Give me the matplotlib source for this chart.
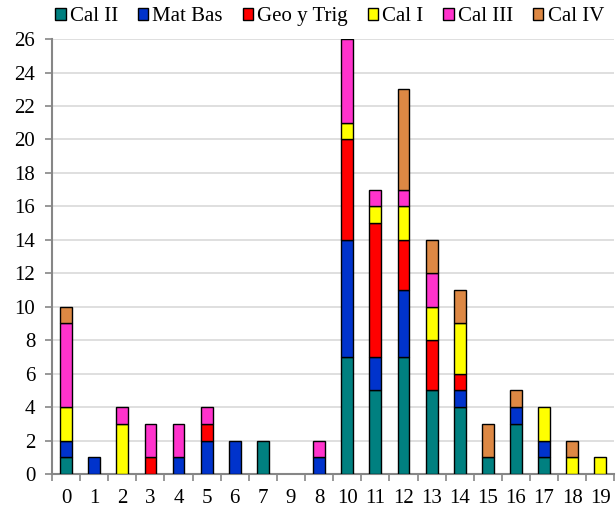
import numpy as np
import matplotlib.pyplot as plt
from matplotlib.patches import Patch

plt.rcParams["font.family"] = ["Liberation Serif", "DejaVu Serif"]

categories = ["0", "1", "2", "3", "4", "5", "6", "7", "9", "8",
              "10", "11", "12", "13", "14", "15", "16", "17", "18", "19"]

cal_ii = [1, 0, 0, 0, 0, 0, 0, 2, 0, 0, 7, 5, 7, 5, 4, 1, 3, 1, 0, 0]
mat_bas = [1, 1, 0, 0, 1, 2, 2, 0, 0, 1, 7, 2, 4, 0, 1, 0, 1, 1, 0, 0]
geo_trig = [0, 0, 0, 1, 0, 1, 0, 0, 0, 0, 6, 8, 3, 3, 1, 0, 0, 0, 0, 0]
cal_i = [2, 0, 3, 0, 0, 0, 0, 0, 0, 0, 1, 1, 2, 2, 3, 0, 0, 2, 1, 1]
cal_iii = [5, 0, 1, 2, 2, 1, 0, 0, 0, 1, 5, 1, 1, 2, 0, 0, 0, 0, 0, 0]
cal_iv = [1, 0, 0, 0, 0, 0, 0, 0, 0, 0, 0, 0, 6, 2, 2, 2, 1, 0, 1, 0]

series = [
    ("Cal II", cal_ii, "#008080"),
    ("Mat Bas", mat_bas, "#0033CC"),
    ("Geo y Trig", geo_trig, "#FF0000"),
    ("Cal I", cal_i, "#FFFF00"),
    ("Cal III", cal_iii, "#FF33CC"),
    ("Cal IV", cal_iv, "#DD8844"),
]

fig = plt.figure(figsize=(6.16, 5.08), dpi=100)
ax = fig.add_axes([0.0844, 0.067, 0.913, 0.856])

x = np.arange(len(categories))
bottom = np.zeros(len(categories))
for name, vals, color in series:
    vals = np.array(vals, dtype=float)
    mask = vals > 0
    ax.bar(x[mask], vals[mask], bottom=bottom[mask], width=0.42,
           color=color, edgecolor="black", linewidth=1.0, zorder=3)
    bottom += vals

ax.set_xlim(-0.5, len(categories) - 0.5)
ax.set_ylim(0, 26)
ax.set_yticks(np.arange(0, 27, 2))
ax.yaxis.grid(True, color="#D9D9D9", linewidth=1.2, zorder=0)

ax.set_xticks(x)
ax.set_xticklabels(categories)
ax.set_xticks(np.arange(-0.5, len(categories), 1), minor=True)
ax.tick_params(axis="x", which="major", length=0, labelsize=15, pad=11)
ax.tick_params(axis="x", which="minor", length=5, color="#868686", width=1.2)
ax.tick_params(axis="y", labelsize=15, length=5, color="#868686", width=1.2,
               pad=7)

for side in ["top", "right"]:
    ax.spines[side].set_visible(False)
for side in ["left", "bottom"]:
    ax.spines[side].set_color("#868686")
    ax.spines[side].set_linewidth(1.5)

handles = [Patch(facecolor=c, edgecolor="black", label=n) for n, _, c in series]
fig.legend(handles=handles, loc="center", bbox_to_anchor=(0.535, 0.967),
           ncol=6, frameon=False, fontsize=15, handlelength=0.5,
           handleheight=0.5, handletextpad=0.2, columnspacing=0.95)

fig.savefig("out.png", dpi=100)
